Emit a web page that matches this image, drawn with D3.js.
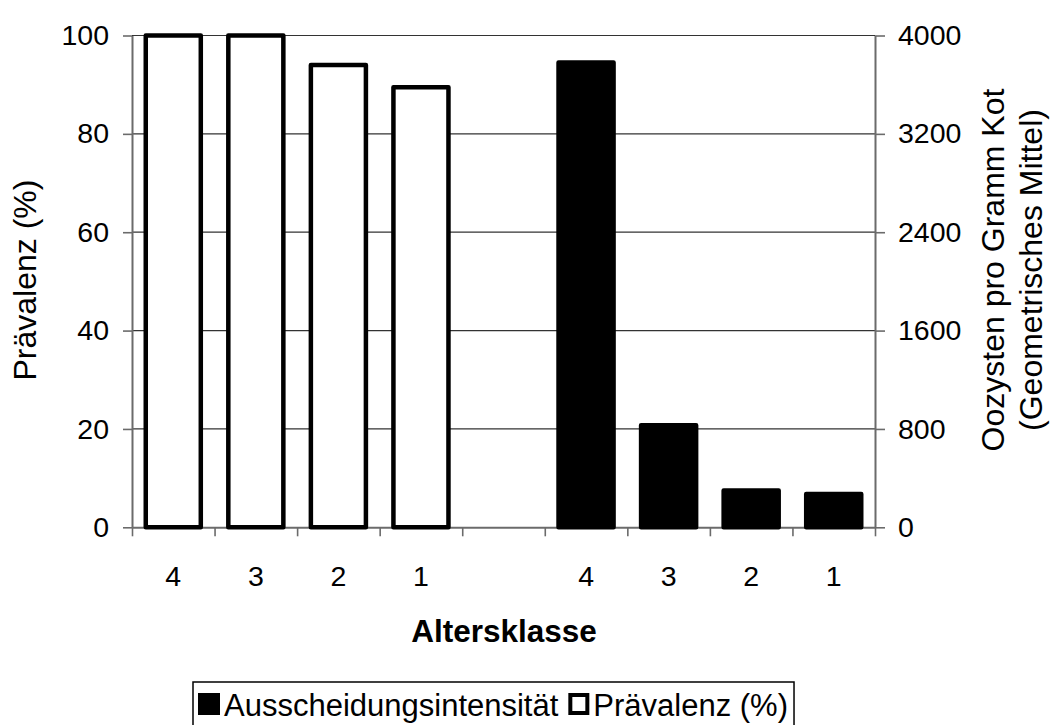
<!DOCTYPE html>
<html>
<head>
<meta charset="utf-8">
<script src="https://cdn.jsdelivr.net/npm/d3@7"></script>
<style>
  body { margin: 0; background: #fff; }
  svg { font-family: "Liberation Sans", Arial, sans-serif; }
</style>
</head>
<body>
<script>
// Altersklassen, links Prävalenz, rechts Ausscheidungsintensität
let klassen = ['4', '3', '2', '1']
let praevalenz = [100, 100, 94, 89.5]
let oozysten = [3780, 830, 300, 270]
let yTicksLeft = [0, 20, 40, 60, 80, 100]
let yTicksRight = [0, 800, 1600, 2400, 3200, 4000]

let W = 1058
let H = 725
let plotLeft = 132, plotRight = 875, plotTop = 35.5, plotBottom = 527.3

// 9 Plätze: 4 Prävalenz, eine Lücke, 4 Oozysten
let slots = klassen.map(k => 'p' + k).concat(['gap']).concat(klassen.map(k => 'o' + k))

let svg = d3.select('body').append('svg')
  .attr('width', W)
  .attr('height', H)

let x = d3.scaleBand().domain(slots).range([plotLeft, plotRight])
let y = d3.scaleLinear().domain([0, 100]).range([plotBottom, plotTop])
let yR = d3.scaleLinear().domain([0, 4000]).range([plotBottom, plotTop])
let bw = x.bandwidth() / 1.5

// Gitterlinien
svg.append('g')
  .selectAll('line')
  .data(yTicksLeft.filter(d => d > 0))
  .enter().append('line')
  .attr('x1', plotLeft).attr('x2', plotRight)
  .attr('y1', d => y(d)).attr('y2', d => y(d))
  .attr('stroke', '#333')
  .attr('stroke-width', 1.2)

// linke Achse
let gL = svg.append('g')
  .attr('transform', 'translate(' + plotLeft + ',0)')
  .call(d3.axisLeft(y).tickValues(yTicksLeft).tickSize(9).tickPadding(14).tickSizeOuter(0))
// rechte Achse
let gR = svg.append('g')
  .attr('transform', 'translate(' + plotRight + ',0)')
  .call(d3.axisRight(yR).tickValues(yTicksRight).tickFormat(d3.format('d')).tickSize(10).tickPadding(13).tickSizeOuter(0))

// x-Achse: Striche an den Grenzen
let xb = d3.scaleLinear().domain([0, slots.length]).range([plotLeft, plotRight])
let gX = svg.append('g')
  .attr('transform', 'translate(0,' + plotBottom + ')')
  .call(d3.axisBottom(xb).tickValues(d3.range(slots.length + 1)).tickSize(9).tickFormat('').tickSizeOuter(0))
let gXL = svg.append('g')
  .attr('transform', 'translate(0,' + plotBottom + ')')
  .call(d3.axisBottom(x).tickSize(0).tickPadding(38).tickFormat(d => d === 'gap' ? '' : d.slice(1)))
gXL.select('.domain').remove()

;[gL, gR, gX].forEach(g => {
  g.select('.domain').attr('stroke', '#6b6b6b').attr('stroke-width', 2)
  g.selectAll('.tick line').attr('stroke', '#6b6b6b').attr('stroke-width', 1.6)
})
;[gL, gR, gXL].forEach(g => {
  g.selectAll('text')
    .attr('fill', '#000')
    .style('font-size', '28.5px')
    .style('font-family', '"Liberation Sans", Arial, sans-serif')
})

// Balken Prävalenz (weiß)
svg.append('g')
  .selectAll('rect')
  .data(praevalenz)
  .enter().append('rect')
  .attr('x', (d, i) => x('p' + klassen[i]) + x.bandwidth() / 2 - bw / 2)
  .attr('y', d => y(d))
  .attr('width', bw)
  .attr('height', d => y(0) - y(d))
  .attr('fill', '#fff')
  .attr('stroke', '#000')
  .attr('stroke-width', 4.5)
  .attr('stroke-linejoin', 'round')

// Balken Ausscheidungsintensität (schwarz)
svg.append('g')
  .selectAll('rect')
  .data(oozysten)
  .enter().append('rect')
  .attr('x', (d, i) => x('o' + klassen[i]) + x.bandwidth() / 2 - bw / 2)
  .attr('y', d => yR(d))
  .attr('width', bw)
  .attr('height', d => yR(0) - yR(d))
  .attr('fill', '#000')
  .attr('stroke', '#000')
  .attr('stroke-width', 4.5)
  .attr('stroke-linejoin', 'round')

// Achsentitel
svg.append('text')
  .attr('transform', 'translate(36,280) rotate(-90)')
  .attr('text-anchor', 'middle')
  .style('font-size', '32px')
  .text('Prävalenz (%)')
svg.append('text')
  .attr('transform', 'translate(1004,270) rotate(-90)')
  .attr('text-anchor', 'middle')
  .style('font-size', '32px')
  .text('Oozysten pro Gramm Kot')
svg.append('text')
  .attr('transform', 'translate(1042,270) rotate(-90)')
  .attr('text-anchor', 'middle')
  .style('font-size', '32px')
  .text('(Geometrisches Mittel)')
svg.append('text')
  .attr('x', 504)
  .attr('y', 642)
  .attr('text-anchor', 'middle')
  .style('font-size', '31.5px')
  .style('font-weight', 'bold')
  .text('Altersklasse')

// Legende
let lg = svg.append('g')
let box = lg.append('rect')
  .attr('x', 193).attr('y', 682)
  .attr('height', 52)
  .attr('fill', '#fff')
  .attr('stroke', '#000')
  .attr('stroke-width', 1.5)
lg.append('rect')
  .attr('x', 198).attr('y', 693)
  .attr('width', 22).attr('height', 22)
  .attr('fill', '#000')
let t1 = lg.append('text')
  .attr('x', 224).attr('y', 716)
  .style('font-size', '31px')
  .text('Ausscheidungsintensität')
let x2 = 224 + t1.node().getComputedTextLength() + 10
lg.append('rect')
  .attr('x', x2 + 2).attr('y', 695)
  .attr('width', 17).attr('height', 18)
  .attr('fill', '#fff')
  .attr('stroke', '#000')
  .attr('stroke-width', 4)
let t2 = lg.append('text')
  .attr('x', x2 + 25).attr('y', 716)
  .style('font-size', '31px')
  .text('Prävalenz (%)')
box.attr('width', x2 + 25 + t2.node().getComputedTextLength() + 6 - 193)
</script>
</body>
</html>
